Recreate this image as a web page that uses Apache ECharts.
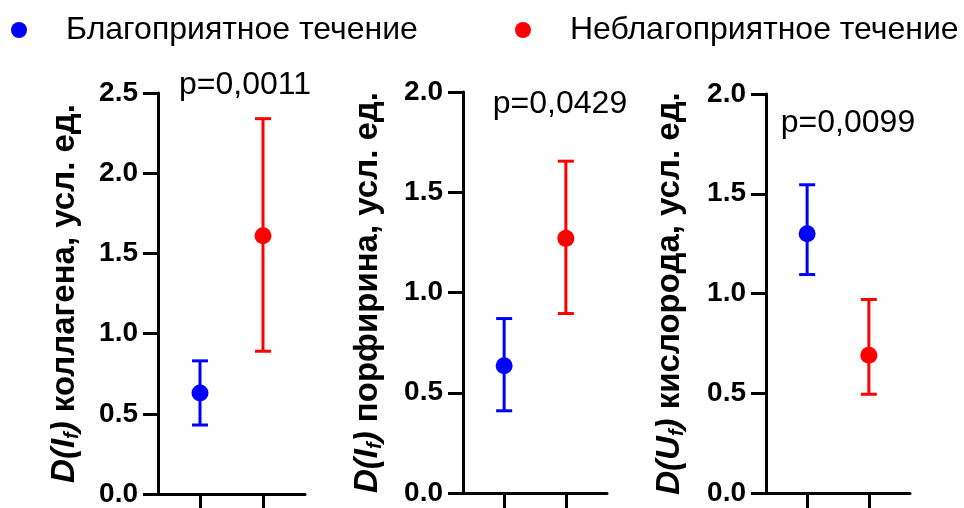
<!DOCTYPE html>
<html>
<head>
<meta charset="utf-8">
<script src="https://cdn.jsdelivr.net/npm/echarts@6/dist/echarts.min.js"></script>
<style>
html,body{margin:0;padding:0;background:#fff;}
#chart{width:964px;height:508px;}
</style>
</head>
<body>
<div id="chart"></div>
<script>
// ---- data ----
const groupNames = ['Благоприятное течение', 'Неблагоприятное течение'];
const panelSubstances = ['коллагена', 'порфирина', 'кислорода'];
const panelVars = ['I', 'I', 'U'];
const pValues = ['p=0,0011', 'p=0,0429', 'p=0,0099'];
const yMaxValues = [2.5, 2.0, 2.0];
const yInterval = 0.5;
const groupX = [1, 2.5];

const favMean = [0.63, 0.635, 1.30];
const favLow  = [0.43, 0.41, 1.095];
const favHigh = [0.83, 0.87, 1.545];

const unfavMean = [1.61, 1.27, 0.69];
const unfavLow  = [0.89, 0.895, 0.495];
const unfavHigh = [2.34, 1.655, 0.97];

// ---- styling ----
const colors = ['#0000FF', '#FF0000'];
const FONT = '"Liberation Sans", Arial, sans-serif';
const grids = [
  {left: 158, top: 93, width: 147, height: 402},
  {left: 463, top: 92, width: 144, height: 401},
  {left: 766, top: 94, width: 144, height: 399}
];
const nameGaps = [76, 78, 79];
const pPos = [[245, 85], [560, 104], [848, 123]];

function renderErr(params, api) {
  const x = api.value(0), lo = api.value(1), hi = api.value(2);
  const pHi = api.coord([x, hi]);
  const pLo = api.coord([x, lo]);
  const half = 8;
  const style = {stroke: api.visual('color'), lineWidth: 3, fill: null};
  return {
    type: 'group',
    children: [
      {type: 'line', shape: {x1: pHi[0], y1: pHi[1], x2: pLo[0], y2: pLo[1]}, style: style},
      {type: 'line', shape: {x1: pHi[0] - half, y1: pHi[1], x2: pHi[0] + half, y2: pHi[1]}, style: style},
      {type: 'line', shape: {x1: pLo[0] - half, y1: pLo[1], x2: pLo[0] + half, y2: pLo[1]}, style: style}
    ]
  };
}

const xAxes = [], yAxes = [], series = [], graphics = [];
for (let i = 0; i < 3; i++) {
  xAxes.push({
    type: 'value', gridIndex: i, min: 0, max: 3.5,
    axisLine: {show: true, lineStyle: {color: '#000', width: 3}},
    axisTick: {show: true, inside: false, length: 15, lineStyle: {color: '#000', width: 3}, customValues: groupX},
    axisLabel: {show: false},
    splitLine: {show: false}
  });
  yAxes.push({
    type: 'value', gridIndex: i, min: 0, max: yMaxValues[i], interval: yInterval,
    name: '{it|D(' + panelVars[i] + '}{sub|f}{it|)} {b|' + panelSubstances[i] + ', усл. ед.}',
    nameLocation: 'middle', nameRotate: 90, nameGap: nameGaps[i],
    nameTextStyle: {
      fontFamily: FONT, fontSize: 33, fontWeight: 'bold', color: '#000',
      rich: {
        it: {fontFamily: FONT, fontSize: 33, fontWeight: 'bold', fontStyle: 'italic', color: '#000'},
        sub: {fontFamily: FONT, fontSize: 20, fontWeight: 'bold', fontStyle: 'italic', color: '#000', padding: [14, 0, 0, 0]},
        b: {fontFamily: FONT, fontSize: 33, fontWeight: 'bold', color: '#000'}
      }
    },
    axisLine: {show: true, lineStyle: {color: '#000', width: 3}},
    axisTick: {show: true, length: 15, lineStyle: {color: '#000', width: 3}},
    axisLabel: {
      fontFamily: FONT, fontSize: 28, fontWeight: 'bold', color: '#000', margin: 20,
      formatter: v => v.toFixed(1)
    },
    splitLine: {show: false}
  });

  const means = [favMean[i], unfavMean[i]];
  const lows = [favLow[i], unfavLow[i]];
  const highs = [favHigh[i], unfavHigh[i]];
  for (let g = 0; g < 2; g++) {
    series.push({
      type: 'custom', name: groupNames[g], xAxisIndex: i, yAxisIndex: i,
      renderItem: renderErr, itemStyle: {color: colors[g]},
      encode: {x: 0, y: [1, 2]},
      data: [[groupX[g], lows[g], highs[g]]],
      z: 2, silent: true
    });
    series.push({
      type: 'scatter', name: groupNames[g], xAxisIndex: i, yAxisIndex: i,
      symbol: 'circle', symbolSize: 17,
      itemStyle: {color: colors[g], opacity: 1},
      data: [[groupX[g], means[g]]],
      z: 3
    });
  }
  graphics.push({
    type: 'text', x: pPos[i][0], y: pPos[i][1],
    style: {text: pValues[i], fontFamily: FONT, fontSize: 32, fill: '#000', align: 'center', verticalAlign: 'middle'}
  });
}

function legendFor(idx, left) {
  return {
    data: [{name: groupNames[idx], icon: 'circle'}], left: left, top: 14, padding: 0,
    itemWidth: 16, itemHeight: 16,
    formatter: n => '{t|' + n + '}',
    textStyle: {rich: {t: {fontFamily: FONT, fontSize: 32, color: '#000', padding: [0, 0, 0, 34]}}},
    selectedMode: false
  };
}

const chart = echarts.init(document.getElementById('chart'), null, {renderer: 'canvas'});
chart.setOption({
  animation: false,
  backgroundColor: '#fff',
  grid: grids.map(g => Object.assign({containLabel: false}, g)),
  xAxis: xAxes,
  yAxis: yAxes,
  legend: [legendFor(0, 11), legendFor(1, 515)],
  graphic: graphics,
  series: series
});
</script>
</body>
</html>
